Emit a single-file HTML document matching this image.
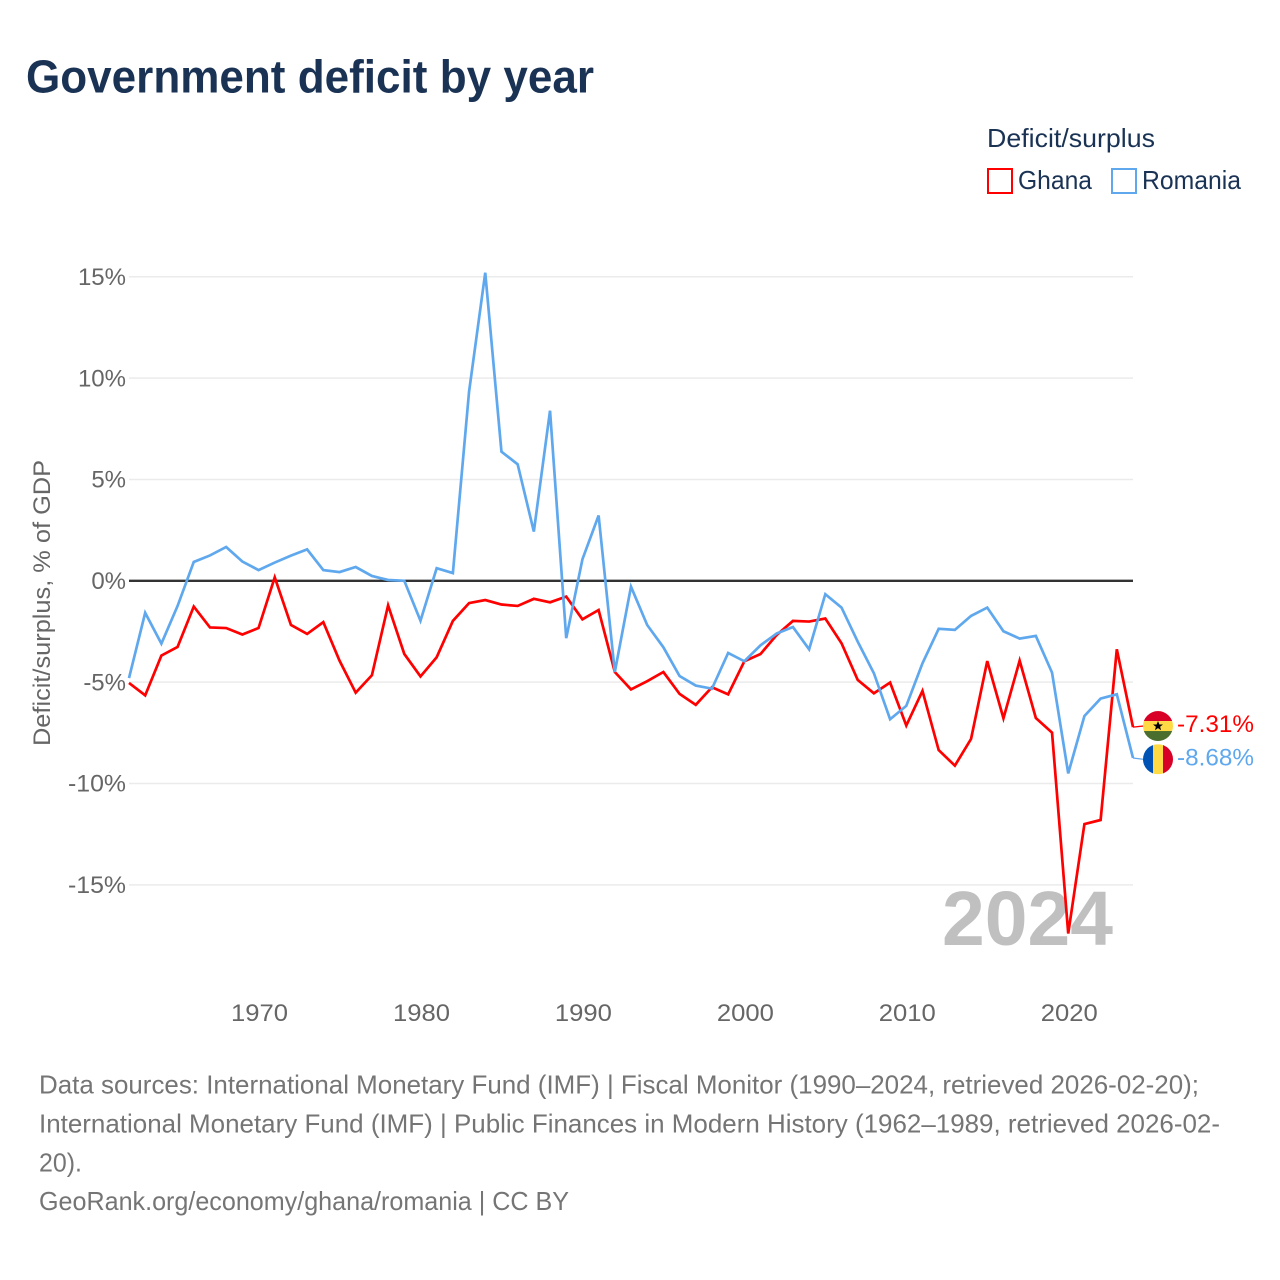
<!DOCTYPE html>
<html lang="en">
<head>
<meta charset="utf-8">
<title>Government deficit by year</title>
<style>
html,body{margin:0;padding:0;background:#fff;width:1280px;height:1280px;overflow:hidden}
svg{display:block}
text{font-family:"Liberation Sans","DejaVu Sans",sans-serif}
</style>
</head>
<body>
<svg id="chart" xmlns="http://www.w3.org/2000/svg" width="1280" height="1280" viewBox="0 0 1280 1280">
  <rect x="0" y="0" width="1280" height="1280" fill="#fff"/>
  <text x="26" y="92.5" font-size="46" font-weight="700" fill="#1a3355" textLength="568" lengthAdjust="spacingAndGlyphs">Government deficit by year</text>

  <g>
    <text x="987" y="147" font-size="26" fill="#1a3355" textLength="168" lengthAdjust="spacingAndGlyphs">Deficit/surplus</text>
    <g>
      <rect x="988" y="169" width="24" height="24" fill="#fff" stroke="#ff0000" stroke-width="2"/>
      <text x="1018" y="189" font-size="26" fill="#1a3355" textLength="74" lengthAdjust="spacingAndGlyphs">Ghana</text>
    </g>
    <g>
      <rect x="1112" y="169" width="24" height="24" fill="#fff" stroke="#5fa8ee" stroke-width="2"/>
      <text x="1142" y="189" font-size="26" fill="#1a3355" textLength="99" lengthAdjust="spacingAndGlyphs">Romania</text>
    </g>
  </g>

  <text transform="translate(50 603) rotate(-90)" text-anchor="middle" font-size="24" fill="#666" textLength="286" lengthAdjust="spacingAndGlyphs">Deficit/surplus, % of GDP</text>

  <g id="grid"></g>
  <g id="yticks"></g>
  <g id="xticks"></g>

  <text x="942" y="945" font-size="77" font-weight="700" fill="#c0c0c0" textLength="171" lengthAdjust="spacingAndGlyphs">2024</text>

  <line id="zero" stroke="#333" stroke-width="2.4"/>
  <g id="series"></g>

  <defs>
    <clipPath id="flag-clip"><circle cx="0" cy="0" r="15"/></clipPath>
  </defs>
  <g id="flag-ghana">
    <g clip-path="url(#flag-clip)">
      <rect x="-15" y="-15" width="30" height="10" fill="#d80027"/>
      <rect x="-15" y="-5" width="30" height="10.5" fill="#ffda44"/>
      <rect x="-15" y="5" width="30" height="10" fill="#496e2d"/>
      <polygon points="0,-5 1.4,-1.5 5,-1.5 2.1,0.7 3.1,4.2 0,2.1 -3.1,4.2 -2.1,0.7 -5,-1.5 -1.4,-1.5" fill="#000"/>
    </g>
  </g>
  <g id="flag-romania">
    <g clip-path="url(#flag-clip)">
      <rect x="-15" y="-15" width="10" height="30" fill="#0052b4"/>
      <rect x="-5" y="-15" width="10.5" height="30" fill="#ffda44"/>
      <rect x="5" y="-15" width="10" height="30" fill="#d80027"/>
    </g>
  </g>
  <g id="end-labels"></g>

  <g font-size="26" fill="#757575">
    <text x="39" y="1093.5" textLength="1160" lengthAdjust="spacingAndGlyphs">Data sources: International Monetary Fund (IMF) | Fiscal Monitor (1990–2024, retrieved 2026-02-20);</text>
    <text x="39" y="1132.5" textLength="1181" lengthAdjust="spacingAndGlyphs">International Monetary Fund (IMF) | Public Finances in Modern History (1962–1989, retrieved 2026-02-</text>
    <text x="39" y="1171.5" textLength="43" lengthAdjust="spacingAndGlyphs">20).</text>
    <text x="39" y="1210" textLength="530" lengthAdjust="spacingAndGlyphs">GeoRank.org/economy/ghana/romania | CC BY</text>
  </g>
</svg>
<script>
const years = [1962,1963,1964,1965,1966,1967,1968,1969,1970,1971,1972,1973,1974,1975,1976,1977,1978,1979,1980,1981,1982,1983,1984,1985,1986,1987,1988,1989,1990,1991,1992,1993,1994,1995,1996,1997,1998,1999,2000,2001,2002,2003,2004,2005,2006,2007,2008,2009,2010,2011,2012,2013,2014,2015,2016,2017,2018,2019,2020,2021,2022,2023,2024];
const ghanaValues = [-5.04,-5.65,-3.69,-3.26,-1.27,-2.30,-2.33,-2.65,-2.33,0.17,-2.18,-2.62,-2.04,-3.94,-5.52,-4.66,-1.21,-3.61,-4.72,-3.77,-1.98,-1.10,-0.95,-1.17,-1.24,-0.89,-1.06,-0.78,-1.90,-1.44,-4.50,-5.36,-4.95,-4.50,-5.58,-6.12,-5.25,-5.60,-3.97,-3.61,-2.67,-1.98,-2.01,-1.86,-3.08,-4.89,-5.55,-5.02,-7.14,-5.43,-8.35,-9.12,-7.80,-3.96,-6.78,-3.94,-6.77,-7.49,-17.40,-12.00,-11.80,-3.38,-7.22];
const romaniaValues = [-4.80,-1.58,-3.10,-1.24,0.93,1.25,1.67,0.95,0.53,0.90,1.24,1.55,0.53,0.43,0.68,0.24,0.04,0.00,-1.97,0.62,0.38,9.33,15.20,6.37,5.75,2.43,8.39,-2.83,1.06,3.22,-4.50,-0.29,-2.18,-3.28,-4.70,-5.17,-5.32,-3.56,-3.97,-3.18,-2.60,-2.28,-3.38,-0.66,-1.32,-3.00,-4.56,-6.83,-6.17,-4.07,-2.37,-2.42,-1.73,-1.32,-2.49,-2.85,-2.72,-4.53,-9.50,-6.67,-5.81,-5.60,-8.74];
const printedEndLabels = ['-7.31%','-8.68%'];
const yTickValues = [15,10,5,0,-5,-10,-15];
const yTickLabels = ['15%','10%','5%','0%','-5%','-10%','-15%'];
const xTickValues = [1970,1980,1990,2000,2010,2020];

const NS = 'http://www.w3.org/2000/svg';
const plotLeft = 129, plotRight = 1133;
const xScale = v => plotLeft + (v - 1962) * (plotRight - plotLeft) / (2024 - 1962);
const yScale = v => 580.8 - v * 20.27;

function make(tag, attrs, parent) {
  const el = document.createElementNS(NS, tag);
  for (const k in attrs) el.setAttribute(k, attrs[k]);
  parent.appendChild(el);
  return el;
}

const grid = document.getElementById('grid');
const yticks = document.getElementById('yticks');
const xticks = document.getElementById('xticks');

yTickValues.forEach((v, i) => {
  if (v !== 0) {
    const gl = make('line', {x1: plotLeft, x2: plotRight, y1: yScale(v), y2: yScale(v), stroke: '#ebebeb', 'stroke-width': 1.5}, grid);
    
    
  }
  const t = make('text', {x: 126, y: yScale(v) + 8.2, 'text-anchor': 'end', 'font-size': 24, fill: '#666'}, yticks);
  if (yTickLabels[i].length === 4) {
    t.setAttribute('textLength', 58);
    t.setAttribute('lengthAdjust', 'spacingAndGlyphs');
  }
  
  
  t.textContent = yTickLabels[i];
});

xTickValues.forEach(v => {
  const t = make('text', {x: xScale(v) + 1, y: 1021, 'text-anchor': 'middle', 'font-size': 24, fill: '#666', textLength: 57, lengthAdjust: 'spacingAndGlyphs'}, xticks);
  
  
  t.textContent = v;
});

const zero = document.getElementById('zero');
zero.setAttribute('x1', plotLeft);
zero.setAttribute('x2', plotRight);
zero.setAttribute('y1', yScale(0));
zero.setAttribute('y2', yScale(0));

const seriesGroup = document.getElementById('series');
const labelsGroup = document.getElementById('end-labels');

function drawSeries(values, printed, color, name, flagId, flagOffset) {
  const pts = values.map((v, i) => xScale(years[i]).toFixed(2) + ',' + yScale(v).toFixed(2)).join(' ');
  const line = make('polyline', {points: pts, fill: 'none', stroke: color, 'stroke-width': 2.7, 'stroke-linejoin': 'miter'}, seriesGroup);
  
  

  const last = values[values.length - 1];
  const flagY = yScale(last) + flagOffset;
  const conn = make('line', {x1: plotRight, y1: yScale(last), x2: plotRight + 10, y2: flagY, stroke: color, 'stroke-width': 1.3}, labelsGroup);
  
  

  document.getElementById(flagId).setAttribute('transform', 'translate(1158 ' + flagY + ')');

  const label = make('text', {x: 1177, y: flagY + 6, 'font-size': 24.5, fill: color, textLength: 77, lengthAdjust: 'spacingAndGlyphs'}, labelsGroup);
  
  
  label.textContent = printed;
}

drawSeries(ghanaValues, printedEndLabels[0], '#ff0000', 'ghana', 'flag-ghana', -1.1);
drawSeries(romaniaValues, printedEndLabels[1], '#5fa8ee', 'romania', 'flag-romania', 1.3);
</script>
</body>
</html>
